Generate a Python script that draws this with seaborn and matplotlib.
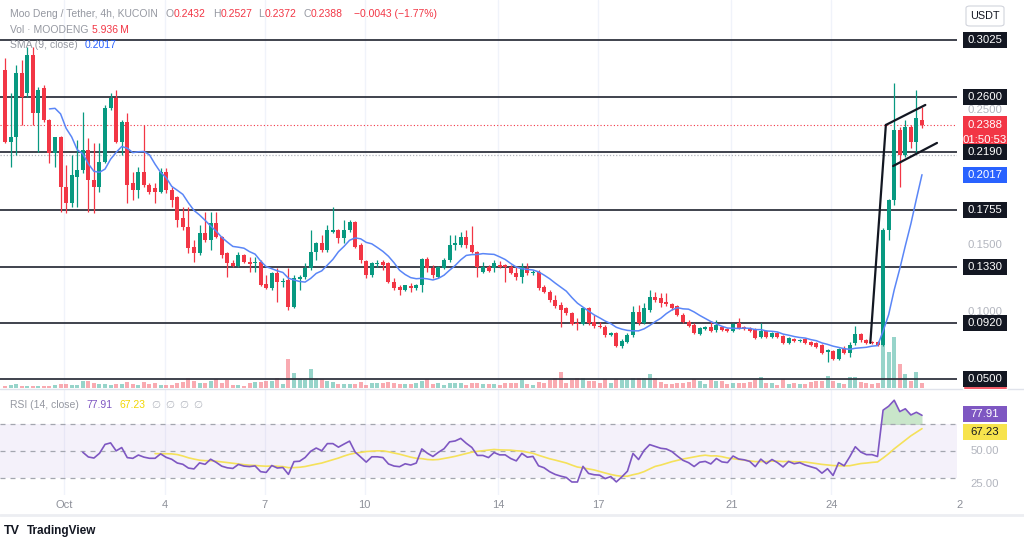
import numpy as np
import pandas as pd
import matplotlib
matplotlib.use("Agg")
import matplotlib.pyplot as plt
import matplotlib.patches as mpatches
import seaborn as sns

# ---------------- data ----------------
opens = [0.2802, 0.2265, 0.2302, 0.2779, 0.2630, 0.2913, 0.2481, 0.2667, 0.2429, 0.2183,
         0.2302, 0.1930, 0.1811, 0.2004, 0.2057, 0.2206, 0.1982, 0.1930, 0.2116, 0.2518,
         0.2593, 0.2265, 0.2414, 0.1960, 0.1908, 0.2042, 0.1945, 0.1922, 0.1893, 0.2042,
         0.1908, 0.1855, 0.1699, 0.1632, 0.1483, 0.1438, 0.1587, 0.1535, 0.1662, 0.1557,
         0.1438, 0.1364, 0.1341, 0.1423, 0.1371, 0.1362, 0.1371, 0.1207, 0.1177, 0.1289,
         0.1222, 0.1237, 0.1036, 0.1244, 0.1259, 0.1326, 0.1446, 0.1513, 0.1461, 0.1595,
         0.1610, 0.1550, 0.1610, 0.1669, 0.1498, 0.1379, 0.1274, 0.1356, 0.1371, 0.1364,
         0.1222, 0.1185, 0.1163, 0.1192, 0.1177, 0.1200, 0.1393, 0.1326, 0.1259, 0.1326,
         0.1386, 0.1498, 0.1498, 0.1557, 0.1498, 0.1446, 0.1297, 0.1334, 0.1326, 0.1349,
         0.1349, 0.1334, 0.1289, 0.1259, 0.1326, 0.1289, 0.1297, 0.1185, 0.1148, 0.1088,
         0.1051, 0.1029, 0.0991, 0.0917, 0.0909, 0.1029, 0.0924, 0.0894, 0.0887, 0.0827,
         0.0842, 0.0745, 0.0775, 0.0827, 0.0999, 0.0917, 0.1014, 0.1110, 0.1103, 0.1073,
         0.1058, 0.1043, 0.0976, 0.0924, 0.0902, 0.0835, 0.0872, 0.0887, 0.0865, 0.0887,
         0.0872, 0.0857, 0.0917, 0.0887, 0.0880, 0.0872, 0.0812, 0.0857, 0.0812, 0.0842,
         0.0820, 0.0768, 0.0798, 0.0783, 0.0798, 0.0775, 0.0768, 0.0753, 0.0701, 0.0708,
         0.0648, 0.0730, 0.0693, 0.0768, 0.0835, 0.0790, 0.0775, 0.0775, 0.0753, 0.1610,
         0.1833, 0.2355, 0.2168, 0.2377, 0.2265, 0.2432]
closes = [0.2265, 0.2302, 0.2779, 0.2600, 0.2913, 0.2481, 0.2653, 0.2429, 0.2183, 0.2302,
          0.1930, 0.1811, 0.2019, 0.2057, 0.2206, 0.1982, 0.1930, 0.2116, 0.2518, 0.2593,
          0.2265, 0.2414, 0.1945, 0.1908, 0.2042, 0.1945, 0.1893, 0.1893, 0.2042, 0.1908,
          0.1833, 0.1684, 0.1632, 0.1475, 0.1438, 0.1587, 0.1535, 0.1662, 0.1557, 0.1423,
          0.1364, 0.1341, 0.1423, 0.1371, 0.1356, 0.1368, 0.1200, 0.1177, 0.1289, 0.1222,
          0.1230, 0.1036, 0.1252, 0.1259, 0.1326, 0.1446, 0.1513, 0.1461, 0.1610, 0.1610,
          0.1550, 0.1610, 0.1669, 0.1483, 0.1386, 0.1274, 0.1364, 0.1364, 0.1349, 0.1222,
          0.1177, 0.1163, 0.1200, 0.1177, 0.1200, 0.1393, 0.1326, 0.1274, 0.1334, 0.1386,
          0.1498, 0.1513, 0.1557, 0.1498, 0.1446, 0.1334, 0.1334, 0.1304, 0.1364, 0.1334,
          0.1334, 0.1289, 0.1259, 0.1334, 0.1289, 0.1297, 0.1177, 0.1148, 0.1088, 0.1043,
          0.1014, 0.0991, 0.0909, 0.0909, 0.1029, 0.0917, 0.0894, 0.0887, 0.0827, 0.0842,
          0.0745, 0.0783, 0.0827, 0.0999, 0.0917, 0.1029, 0.1110, 0.1088, 0.1066, 0.1058,
          0.1029, 0.0976, 0.0924, 0.0894, 0.0842, 0.0880, 0.0887, 0.0857, 0.0902, 0.0865,
          0.0857, 0.0909, 0.0880, 0.0872, 0.0857, 0.0805, 0.0857, 0.0812, 0.0842, 0.0812,
          0.0768, 0.0805, 0.0783, 0.0790, 0.0768, 0.0753, 0.0738, 0.0693, 0.0716, 0.0648,
          0.0723, 0.0693, 0.0753, 0.0835, 0.0790, 0.0768, 0.0768, 0.0753, 0.1610, 0.1833,
          0.2355, 0.2168, 0.2377, 0.2265, 0.2444, 0.2388]
highs = [0.2891, 0.2630, 0.2839, 0.2876, 0.2973, 0.2973, 0.2675, 0.2690, 0.2440, 0.2302,
         0.2310, 0.2094, 0.2168, 0.2280, 0.2489, 0.2295, 0.2258, 0.2258, 0.2541, 0.2630,
         0.2653, 0.2429, 0.2481, 0.2042, 0.2079, 0.2392, 0.1960, 0.1960, 0.2071, 0.2071,
         0.1930, 0.1860, 0.1781, 0.1781, 0.1535, 0.1647, 0.1744, 0.1744, 0.1744, 0.1565,
         0.1445, 0.1386, 0.1446, 0.1431, 0.1408, 0.1408, 0.1386, 0.1274, 0.1297, 0.1326,
         0.1252, 0.1326, 0.1274, 0.1274, 0.1364, 0.1610, 0.1520, 0.1572, 0.1647, 0.1781,
         0.1618, 0.1684, 0.1684, 0.1677, 0.1513, 0.1386, 0.1371, 0.1386, 0.1386, 0.1370,
         0.1252, 0.1200, 0.1200, 0.1215, 0.1207, 0.1401, 0.1408, 0.1349, 0.1341, 0.1401,
         0.1572, 0.1572, 0.1595, 0.1610, 0.1640, 0.1452, 0.1371, 0.1349, 0.1386, 0.1379,
         0.1355, 0.1349, 0.1334, 0.1364, 0.1364, 0.1312, 0.1312, 0.1200, 0.1163, 0.1125,
         0.1073, 0.1036, 0.0999, 0.0954, 0.1036, 0.1036, 0.0976, 0.0924, 0.0902, 0.0850,
         0.0850, 0.0798, 0.0842, 0.1043, 0.1051, 0.1066, 0.1163, 0.1148, 0.1140, 0.1140,
         0.1066, 0.1050, 0.0991, 0.0939, 0.0917, 0.0887, 0.0894, 0.0932, 0.0939, 0.0894,
         0.0880, 0.0917, 0.0954, 0.0894, 0.0887, 0.0880, 0.0917, 0.0865, 0.0850, 0.0850,
         0.0827, 0.0812, 0.0805, 0.0798, 0.0805, 0.0783, 0.0775, 0.0760, 0.0723, 0.0716,
         0.0730, 0.0745, 0.0775, 0.0894, 0.0842, 0.0798, 0.0783, 0.0783, 0.1625, 0.1840,
         0.2705, 0.2377, 0.2429, 0.2392, 0.2653, 0.2527]
lows = [0.2258, 0.2079, 0.2168, 0.2392, 0.2600, 0.2392, 0.2191, 0.2414, 0.2109, 0.2079,
        0.1744, 0.1736, 0.1781, 0.1781, 0.2034, 0.1744, 0.1736, 0.1893, 0.2109, 0.2504,
        0.2258, 0.2168, 0.1811, 0.1833, 0.1848, 0.1930, 0.1878, 0.1811, 0.1885, 0.1885,
        0.1781, 0.1632, 0.1610, 0.1438, 0.1371, 0.1423, 0.1520, 0.1461, 0.1550, 0.1401,
        0.1259, 0.1334, 0.1334, 0.1364, 0.1297, 0.1297, 0.1192, 0.1170, 0.1163, 0.1073,
        0.1185, 0.1014, 0.1029, 0.1163, 0.1244, 0.1312, 0.1386, 0.1446, 0.1446, 0.1587,
        0.1513, 0.1513, 0.1595, 0.1475, 0.1364, 0.1252, 0.1259, 0.1334, 0.1312, 0.1215,
        0.1163, 0.1125, 0.1155, 0.1148, 0.1163, 0.1148, 0.1297, 0.1252, 0.1252, 0.1320,
        0.1371, 0.1461, 0.1483, 0.1475, 0.1438, 0.1259, 0.1289, 0.1297, 0.1297, 0.1326,
        0.1222, 0.1282, 0.1237, 0.1215, 0.1274, 0.1274, 0.1163, 0.1140, 0.1073, 0.1029,
        0.0887, 0.0976, 0.0902, 0.0865, 0.0902, 0.0902, 0.0880, 0.0880, 0.0812, 0.0820,
        0.0738, 0.0730, 0.0768, 0.0812, 0.0902, 0.0909, 0.0999, 0.1073, 0.1036, 0.1043,
        0.1014, 0.0969, 0.0917, 0.0887, 0.0835, 0.0827, 0.0865, 0.0850, 0.0850, 0.0857,
        0.0850, 0.0850, 0.0872, 0.0865, 0.0850, 0.0798, 0.0805, 0.0805, 0.0805, 0.0805,
        0.0760, 0.0760, 0.0775, 0.0775, 0.0760, 0.0745, 0.0730, 0.0686, 0.0626, 0.0641,
        0.0641, 0.0686, 0.0663, 0.0753, 0.0775, 0.0760, 0.0760, 0.0745, 0.0745, 0.1535,
        0.1796, 0.1930, 0.2153, 0.2220, 0.2183, 0.2372]
volumes_m = [2.4, 4.0, 4.8, 2.8, 2.8, 2.8, 2.8, 2.4, 2.8, 3.2,
             4.8, 4.8, 3.2, 4.0, 8.4, 8.0, 6.0, 4.4, 4.8, 4.0,
             4.8, 5.2, 7.2, 4.8, 4.0, 7.2, 4.8, 5.6, 4.0, 3.2,
             4.0, 6.0, 7.2, 12.4, 8.8, 6.4, 6.0, 8.4, 10.4, 6.4,
             9.6, 4.0, 4.0, 2.8, 6.0, 7.2, 7.2, 8.0, 8.0, 12.0,
             5.2, 35.2, 18.4, 10.4, 9.6, 22.4, 10.4, 10.4, 8.4, 7.2,
             5.2, 4.4, 4.4, 4.8, 6.8, 4.0, 5.6, 5.6, 6.0, 7.2,
             6.0, 5.2, 4.8, 4.8, 6.4, 8.4, 10.4, 4.8, 6.4, 4.0,
             6.4, 5.6, 5.6, 4.0, 6.4, 6.4, 5.2, 4.4, 4.4, 3.2,
             6.4, 6.0, 6.0, 9.2, 5.2, 4.0, 7.2, 6.4, 9.2, 12.0,
             19.2, 6.4, 9.2, 12.4, 12.4, 8.0, 8.0, 6.4, 11.2, 6.4,
             11.2, 10.0, 9.2, 12.4, 12.4, 12.4, 17.2, 12.4, 7.2, 5.2,
             5.2, 6.0, 6.0, 7.2, 11.2, 8.0, 5.2, 9.2, 8.4, 8.0,
             5.2, 6.0, 6.0, 6.0, 7.2, 9.2, 13.2, 6.0, 6.0, 4.0,
             11.2, 5.2, 6.0, 5.2, 5.2, 7.2, 8.0, 8.0, 14.4, 8.0,
             6.0, 5.2, 13.2, 13.2, 7.2, 6.0, 4.4, 6.4, 51.6, 43.2,
             61.2, 28.8, 16.8, 8.4, 19.2, 5.936]

levels = [0.3025, 0.2600, 0.2190, 0.1755, 0.1330, 0.0920, 0.0500]
scale_ticks = [0.2500, 0.1500, 0.1000]
dotted_level = 0.2168
day_numbers = [1, 4, 7, 10, 14, 17, 21, 24]
day_labels = ["Oct", "4", "7", "10", "14", "17", "21", "24"]
# bull-flag drawing: (candle index, price)
flag_pole = [(155.7, 0.0768), (158.5, 0.2392)]
flag_top = [(158.5, 0.2392), (165.6, 0.2541)]
flag_bottom = [(159.8, 0.2086), (167.7, 0.2258)]

last_open, last_high, last_low, last_close = 0.2432, 0.2527, 0.2372, 0.2388
change, change_pct = -0.0043, -1.77
last_sma = 0.2017
rsi_value, rsi_ma_value = 77.91, 67.23
countdown = "01:50:53"

# ---------------- derived indicators ----------------
n = len(closes)
idx = np.arange(n)
c = np.array(closes)
sma = pd.Series(c).rolling(9).mean().to_numpy()

L = 14
d = np.diff(c)
up = np.maximum(d, 0)
dn = np.maximum(-d, 0)
rsi = np.full(n, np.nan)
au, ad = up[:L].mean(), dn[:L].mean()
rsi[L] = 100 - 100 / (1 + au / ad)
for k in range(L + 1, n):
    au = (au * (L - 1) + up[k - 1]) / L
    ad = (ad * (L - 1) + dn[k - 1]) / L
    rsi[k] = 100.0 if ad == 0 else 100 - 100 / (1 + au / ad)
rsi_ma = pd.Series(rsi).rolling(14).mean().to_numpy()

# ---------------- style ----------------
sns.set_theme(style="white")
plt.rcParams["font.family"] = ["Liberation Sans", "DejaVu Sans"]

UP, DOWN = "#089981", "#f23645"
GRAY = "#8d9099"
W, H = 1024, 540
fig = plt.figure(figsize=(W / 100, H / 100), dpi=100)
fig.patch.set_facecolor("white")


def px_axes(l, t, r, b, **kw):
    return fig.add_axes([l / W, 1 - b / H, (r - l) / W, (b - t) / H], **kw)


def fx(x):
    return x / W


def fy(y):
    return 1 - y / H


XL = (-0.9, 171.3)
YTOP, YBOT = 0.3323, 0.0432
MAIN_B = 388
RSI_T, RSI_B = 390, 495
RTOP, RBOT = 96.0, 16.8


def py(p):
    return (YTOP - p) / (YTOP - YBOT) * MAIN_B


def ry(v):
    return RSI_T + (RTOP - v) / (RTOP - RBOT) * (RSI_B - RSI_T)


day0 = 10.7  # candle index of Oct 1 00:00
tick_pos = [day0 + (dn_ - 1) * 6 for dn_ in day_numbers]

# volume axes (underneath)
axv = px_axes(0, 0, 957, MAIN_B)
axv.set_xlim(*XL)
axv.set_ylim(0, 465)
vcols = [UP if closes[i] >= opens[i] else DOWN for i in range(n)]
axv.bar(idx, volumes_m, width=0.72, color=vcols, alpha=0.42, linewidth=0)
for t in tick_pos:
    axv.axvline(t, color="#f0f3fa", lw=1, zorder=0)
axv.axis("off")

# price axes
ax = px_axes(0, 0, 957, MAIN_B, sharex=axv)
ax.patch.set_alpha(0)
ax.set_xlim(*XL)
ax.set_ylim(YBOT, YTOP)
for lv in levels:
    ax.axhline(lv, color="#30343f", lw=1.3, zorder=2)
ax.axhline(dotted_level, color="#b2b5be", lw=0.9, ls=(0, (1, 1.5)), zorder=1)
ax.axhline(last_close, color=DOWN, lw=0.8, ls=(0, (1, 2)), zorder=1)

for i in range(n):
    o, h, l, cl = opens[i], highs[i], lows[i], closes[i]
    col = UP if cl >= o else DOWN
    ax.vlines(i, l, h, color=col, lw=0.9, zorder=4)
    body = max(abs(cl - o), 0.0006)
    ax.bar(i, body, bottom=min(o, cl), width=0.72, color=col, linewidth=0, zorder=5)

valid = ~np.isnan(sma)
sns.lineplot(x=idx[valid], y=sma[valid], ax=ax, color="#5a86f7", linewidth=1.1, zorder=6)

for seg in (flag_pole, flag_top, flag_bottom):
    ax.plot([seg[0][0], seg[1][0]], [seg[0][1], seg[1][1]], color="#131722", lw=1.6,
            zorder=7, solid_capstyle="round", clip_on=False)
ax.axis("off")

# RSI axes
axr = px_axes(0, RSI_T, 957, RSI_B, sharex=axv)
axr.set_xlim(*XL)
axr.set_ylim(RBOT, RTOP)
axr.axhspan(30, 70, color="#7e57c2", alpha=0.08, lw=0)
for lv in (70, 50, 30):
    axr.axhline(lv, color="#a3a6af", lw=0.9, ls=(0, (4, 4)))
for t in tick_pos:
    axr.axvline(t, color="#f0f3fa", lw=1, zorder=0)
rv = ~np.isnan(rsi)
sns.lineplot(x=idx[rv], y=rsi[rv], ax=axr, color="#7e57c2", linewidth=1.2, zorder=5)
mv = ~np.isnan(rsi_ma)
sns.lineplot(x=idx[mv], y=rsi_ma[mv], ax=axr, color="#f5e15a", linewidth=1.2, zorder=4)
axr.fill_between(idx, 70, np.nan_to_num(rsi), where=np.nan_to_num(rsi) > 70,
                 color="#4caf50", alpha=0.3, lw=0, interpolate=True)
axr.set_xticks(tick_pos)
axr.set_xticklabels([])
axr.set_yticks([])
for s in axr.spines.values():
    s.set_visible(False)
axr.tick_params(length=0)
axr.set_xlabel("")
axr.set_ylabel("")

for t, lab in zip(tick_pos, day_labels):
    xp = 5 + t * 5.557
    fig.text(fx(xp), fy(505), lab, ha="center", va="center", fontsize=8, color=GRAY)
fig.text(fx(960), fy(505), "2", ha="center", va="center", fontsize=8, color=GRAY)

# separators
fig.add_artist(plt.Line2D([0, fx(1024)], [fy(389), fy(389)], color="#e0e3eb", lw=1))
fig.add_artist(plt.Line2D([0, 1], [fy(515), fy(515)], color="#eceef2", lw=2))


# right price scale labels
def box_label(yc, text, fc, tc="white", h=16, z=10):
    fig.add_artist(mpatches.Rectangle((fx(963), fy(yc + h / 2)), 44 / W, h / H,
                                      transform=fig.transFigure, facecolor=fc,
                                      edgecolor="none", zorder=z))
    fig.text(fx(985), fy(yc), text, ha="center", va="center", fontsize=8.2, color=tc,
             zorder=z + 1)


for tv in scale_ticks:
    fig.text(fx(985), fy(py(tv)), f"{tv:.4f}", ha="center", va="center", fontsize=8.2,
             color="#b2b5be", zorder=9)

# last price box (drawn under the level labels)
ylp = py(last_close)
fig.add_artist(mpatches.Rectangle((fx(963), fy(ylp + 21)), 44 / W, 30 / H,
                                  transform=fig.transFigure, facecolor=DOWN,
                                  edgecolor="none", zorder=10))
fig.text(fx(985), fy(ylp), f"{last_close:.4f}", ha="center", va="center", fontsize=8.2,
         color="white", zorder=11)
fig.text(fx(985), fy(ylp + 14.5), countdown, ha="center", va="center", fontsize=8.2,
         color="white", zorder=11)

for lv in levels:
    box_label(py(lv), f"{lv:.4f}", "#131722", z=12)
fig.add_artist(mpatches.Rectangle((fx(963), fy(389)), 44 / W, 3 / H,
                                  transform=fig.transFigure, facecolor=DOWN, zorder=10))
box_label(py(last_sma), f"{last_sma:.4f}", "#2962ff")

# RSI scale labels
box_label(ry(rsi_value), f"{rsi_value:.2f}", "#7e57c2")
box_label(ry(rsi_value) + 18, f"{rsi_ma_value:.2f}", "#f7e34d", tc="#131722")
fig.text(fx(985), fy(ry(50)), "50.00", ha="center", va="center", fontsize=8.2, color="#b2b5be")
fig.text(fx(985), fy(ry(25)), "25.00", ha="center", va="center", fontsize=8.2, color="#b2b5be")

# USDT box
fig.add_artist(mpatches.FancyBboxPatch((fx(966), fy(26)), 38 / W, 20 / H,
                                       boxstyle="round,pad=0,rounding_size=0.004",
                                       transform=fig.transFigure, facecolor="white",
                                       edgecolor="#d1d4dc", lw=0.8, zorder=10))
fig.text(fx(985), fy(16), "USDT", ha="center", va="center", fontsize=7.8, color="#131722",
         zorder=11)

# legends (top left)
FS = 7.5
LG = "#9598a1"


def seq(y, parts):
    for x, txt, col in parts:
        fig.text(fx(x), fy(y), txt, ha="left", va="center", fontsize=FS, color=col, zorder=12)


seq(14, [(10, "Moo Deng / Tether, 4h, KUCOIN", LG),
         (166, "O", LG), (174, f"{last_open:.4f}", DOWN),
         (213, "H", LG), (221, f"{last_high:.4f}", DOWN),
         (258, "L", LG), (265, f"{last_low:.4f}", DOWN),
         (303, "C", LG), (311, f"{last_close:.4f}", DOWN),
         (354, f"\u2212{abs(change):.4f} (\u2212{abs(change_pct):.2f}%)", DOWN)])
seq(30, [(10, "Vol \u00b7 MOODENG", LG), (92, "5.936\u2009M", DOWN)])
seq(45, [(10, "SMA (9, close)", LG), (85, f"{last_sma:.4f}", "#2962ff")])
seq(405, [(10, "RSI (14, close)", LG), (86, f"{rsi_value:.2f}", "#7e57c2"),
          (119, f"{rsi_ma_value:.2f}", "#f2d600"),
          (151, "\u2205", "#b2b5be"), (165, "\u2205", "#b2b5be"),
          (179, "\u2205", "#b2b5be"), (193, "\u2205", "#b2b5be")])

# TradingView footer
fig.text(fx(4), fy(531), "TV", ha="left", va="center", fontsize=9, fontweight="bold",
         color="#131722")
fig.text(fx(27), fy(531), "TradingView", ha="left", va="center", fontsize=8.5,
         fontweight="bold", color="#131722")

fig.savefig("out.png", dpi=100, facecolor="white")
